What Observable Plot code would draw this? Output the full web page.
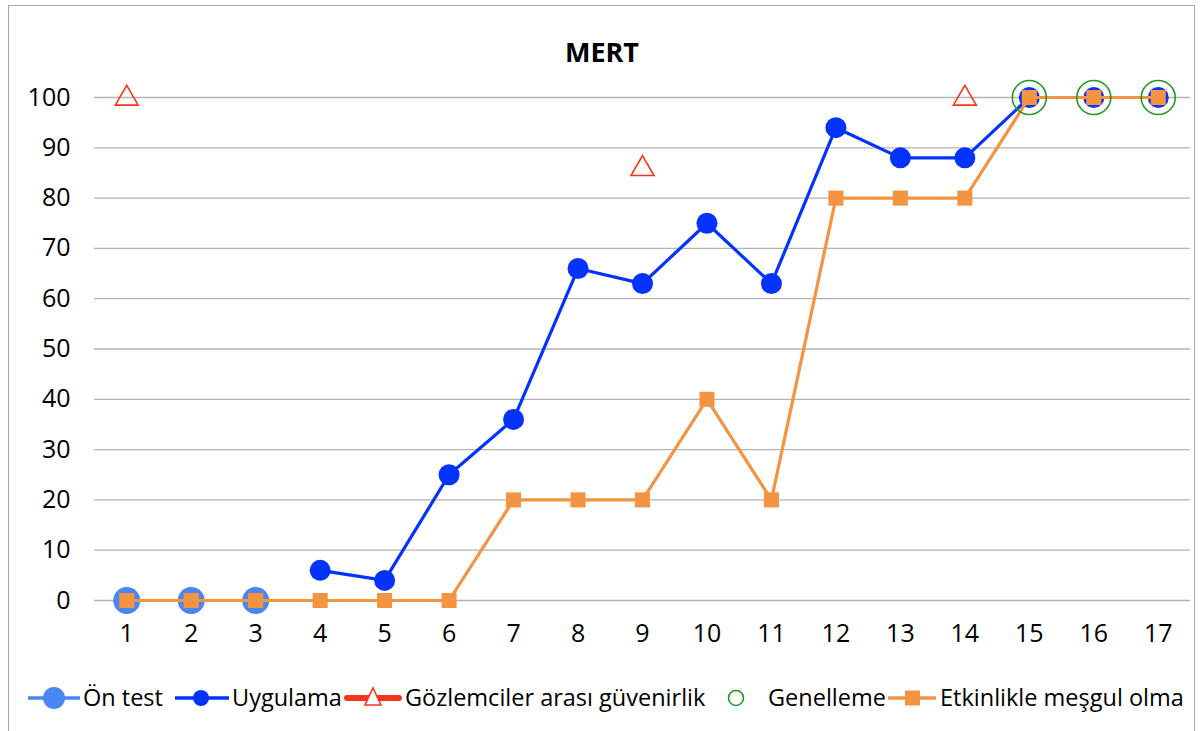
<!DOCTYPE html>
<html>
<head>
<meta charset="utf-8">
<script src="https://cdn.jsdelivr.net/npm/d3@7"></script>
<script src="https://cdn.jsdelivr.net/npm/@observablehq/plot@0.6"></script>
<style>
  html, body { margin: 0; padding: 0; background: #fff; }
  #wrap { position: relative; width: 1204px; height: 731px; overflow: hidden; font-family: "Open Sans", sans-serif; }
  #frame { position: absolute; left: 8px; top: 5px; width: 1187px; height: 760px; border: 1px solid #a6a6a6; box-sizing: border-box; }
  #title { position: absolute; left: 0; width: 1204px; top: 35px; text-align: center; font-weight: bold; font-size: 27px; line-height: 34px; color: #000; }
  #chart { position: absolute; left: 0; top: 0; }
  #legend { position: absolute; left: 0; top: 680px; width: 1204px; height: 36px; font-size: 23.5px; color: #000; white-space: nowrap; }
  #legend .sym { position: absolute; top: 3px; }
  #legend .lbl { position: absolute; top: 0; line-height: 34px; }
</style>
</head>
<body>
<div id="wrap">
  <div id="frame"></div>
  <div id="chart"></div>
  <div id="title">MERT</div>
  <div id="legend"></div>
</div>
<script>
// ---- data ----
const sessions = [1,2,3,4,5,6,7,8,9,10,11,12,13,14,15,16,17];
const yTicks = [0,10,20,30,40,50,60,70,80,90,100];

const onTestX = [1,2,3];
const onTestY = [0,0,0];

const uygulamaX = [4,5,6,7,8,9,10,11,12,13,14,15,16,17];
const uygulamaY = [6,4,25,36,66,63,75,63,94,88,88,100,100,100];

const guvenirlikX = [1,9,14];
const guvenirlikY = [100,86,100];

const genellemeX = [15,16,17];
const genellemeY = [100,100,100];

const etkinlikX = [1,2,3,4,5,6,7,8,9,10,11,12,13,14,15,16,17];
const etkinlikY = [0,0,0,0,0,0,20,20,20,40,20,80,80,80,100,100,100];

const seriesNames = ["Ön test","Uygulama","Gözlemciler arası güvenirlik","Genelleme","Etkinlikle meşgul olma"];

const C_LIGHT = "#4a86f2";
const C_BLUE = "#0433ff";
const C_RED = "#f5361c";
const C_GREEN = "#1f9a1f";
const C_ORANGE = "#f39442";

const toRows = (xs, ys) => xs.map((x, i) => ({x, y: ys[i]}));
const onTest = toRows(onTestX, onTestY);
const uygulama = toRows(uygulamaX, uygulamaY);
const guvenirlik = toRows(guvenirlikX, guvenirlikY);
const genelleme = toRows(genellemeX, genellemeY);
const etkinlik = toRows(etkinlikX, etkinlikY);

const chart = Plot.plot({
  width: 1204,
  height: 665,
  marginTop: 97,
  marginBottom: 65,
  marginLeft: 94,
  marginRight: 14,
  style: { fontFamily: "Open Sans, sans-serif", fontSize: "25px", color: "#000", background: "transparent" },
  x: { type: "linear", domain: [0.5, 17.5], ticks: sessions, tickFormat: d3.format("d"), tickSize: 0, tickPadding: 24, label: null },
  y: { domain: [0, 100], ticks: yTicks, tickSize: 0, tickPadding: 24, label: null },
  marks: [
    Plot.ruleY(yTicks, { stroke: "#b3b3b3", strokeWidth: 1.3 }),
    Plot.line(onTest, { x: "x", y: "y", stroke: C_LIGHT, strokeWidth: 3.2 }),
    Plot.dot(onTest, { x: "x", y: "y", r: 13.5, fill: C_LIGHT, stroke: "none" }),
    Plot.line(uygulama, { x: "x", y: "y", stroke: C_BLUE, strokeWidth: 3.2 }),
    Plot.dot(uygulama, { x: "x", y: "y", r: 10.5, fill: C_BLUE, stroke: "none" }),
    Plot.line(etkinlik, { x: "x", y: "y", stroke: C_ORANGE, strokeWidth: 3.2 }),
    Plot.dot(etkinlik, { x: "x", y: "y", symbol: "square", r: 8.5, fill: C_ORANGE, stroke: "none" }),
    Plot.dot(guvenirlik, { x: "x", y: "y", symbol: "triangle", r: 8.5, fill: "none", stroke: C_RED, strokeWidth: 1.6, dy: 1 }),
    Plot.dot(genelleme, { x: "x", y: "y", r: 17, fill: "none", stroke: C_GREEN, strokeWidth: 1.6 })
  ]
});
document.getElementById("chart").appendChild(chart);

// ---- legend ----
const legendItems = [
  { sx: 26, tx: 83, svg: `<svg width="56" height="30"><line x1="2" x2="54" y1="15" y2="15" stroke="${C_LIGHT}" stroke-width="3.5"/><circle cx="28" cy="15" r="11" fill="${C_LIGHT}"/></svg>` },
  { sx: 174, tx: 232, svg: `<svg width="56" height="30"><line x1="1" x2="55" y1="15" y2="15" stroke="${C_BLUE}" stroke-width="3.5"/><circle cx="27" cy="15" r="8" fill="${C_BLUE}"/></svg>` },
  { sx: 344, tx: 405, svg: `<svg width="58" height="30"><line x1="3" x2="55" y1="15" y2="15" stroke="${C_RED}" stroke-width="6" stroke-linecap="round"/><path d="M29,5 L37,22 L21,22 Z" fill="#fff" stroke="${C_RED}" stroke-width="1.6"/></svg>` },
  { sx: 720, tx: 768, svg: `<svg width="32" height="30"><circle cx="16" cy="15" r="7.5" fill="none" stroke="${C_GREEN}" stroke-width="1.6"/></svg>` },
  { sx: 886, tx: 940, svg: `<svg width="52" height="30"><line x1="2" x2="50" y1="15" y2="15" stroke="${C_ORANGE}" stroke-width="3.5"/><rect x="19" y="7.5" width="15" height="15" fill="${C_ORANGE}"/></svg>` }
];
const legend = document.getElementById("legend");
seriesNames.forEach((name, i) => {
  const it = legendItems[i];
  const s = document.createElement("div");
  s.className = "sym";
  s.style.left = it.sx + "px";
  s.innerHTML = it.svg;
  legend.appendChild(s);
  const t = document.createElement("div");
  t.className = "lbl";
  t.style.left = it.tx + "px";
  t.textContent = name;
  legend.appendChild(t);
});
</script>
</body>
</html>
